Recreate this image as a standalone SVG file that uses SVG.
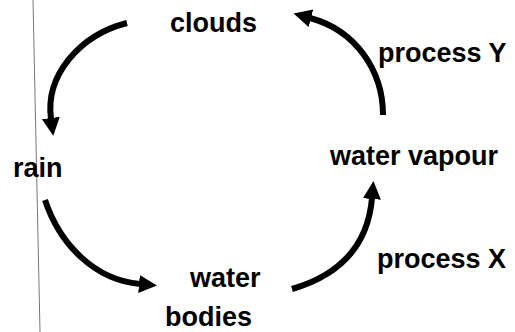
<svg xmlns="http://www.w3.org/2000/svg" width="515" height="332" viewBox="0 0 515 332">
<style>
.t{font-family:"Liberation Sans",Arial,sans-serif;font-size:27px;font-weight:bold;fill:#000}
.c{fill:none;stroke:#000;stroke-width:6;stroke-linecap:butt}
</style>
<defs>
<marker id="ah" markerUnits="userSpaceOnUse" markerWidth="24" markerHeight="24" refX="1" refY="10" orient="auto">
<polygon points="0,1 18,10 0,19" fill="#000"/>
</marker>
</defs>
<rect width="515" height="332" fill="#fff"/>
<line x1="33" y1="0" x2="40" y2="332" stroke="#777" stroke-width="1"/>
<g id="clouds"><text class="t" x="170" y="32">clouds</text></g>
<g id="rain"><text class="t" x="13" y="177">rain</text></g>
<g id="water-bodies"><text class="t" x="190" y="287">water</text><text class="t" x="165" y="326">bodies</text></g>
<g id="water-vapour"><text class="t" x="330" y="165">water vapour</text></g>
<g id="labels"><text class="t" x="378" y="62">process Y</text><text class="t" x="377" y="268">process X</text></g>
<g id="connectors">
<path class="c" d="M127,23 C80,35 45,75 51,119" marker-end="url(#ah)"/>
<path class="c" d="M45,200 C60,245 95,280 140,284" marker-end="url(#ah)"/>
<path class="c" d="M292,289 C340,275 368,245 372,198" marker-end="url(#ah)"/>
<path class="c" d="M383,115 C383,70 355,30 310,18" marker-end="url(#ah)"/>
</g>
</svg>
